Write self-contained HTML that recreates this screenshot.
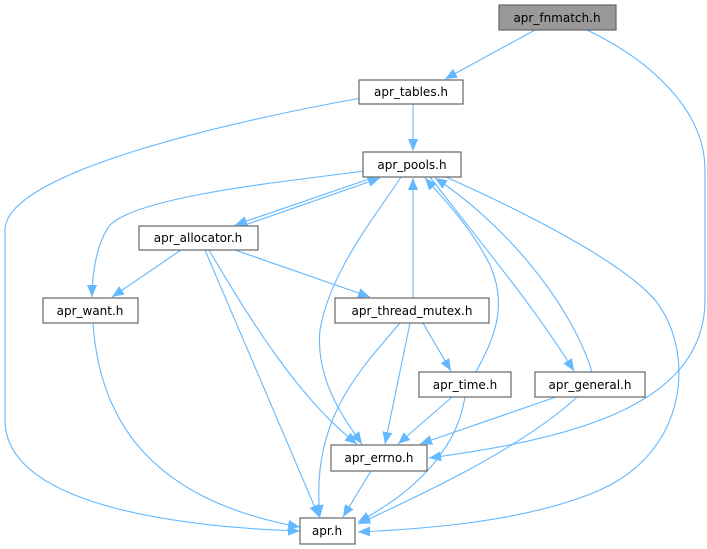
<!DOCTYPE html>
<html><head><meta charset="utf-8"><style>
html,body{margin:0;padding:0;background:#fff;}
svg{display:block;}
text{font-family:"DejaVu Sans","Liberation Sans",sans-serif;font-size:12px;fill:#000;text-anchor:middle;}
.n{fill:#fff;stroke:#666;stroke-width:1.2;}
.e{fill:none;stroke:#63b8ff;stroke-width:1.1;}
</style></head><body>
<svg width="707" height="549" viewBox="0 0 707 549">
<defs><marker id="a" viewBox="0 0 12 10" refX="12" refY="5" markerWidth="12" markerHeight="10" markerUnits="userSpaceOnUse" orient="auto"><path d="M0,0 L12,5 L0,10 z" fill="#63b8ff"/></marker></defs>
<g class="e" marker-end="url(#a)">
<path d="M535,30 L445,79"/>
<path d="M587,30 C650,60 705,110 705,170 L705,300 C705,410 560,440 429,458"/>
<path d="M413,104 L413,151"/>
<path d="M361,98 C250,118 5,170 5,230 L5,420 C5,510 200,528 300,531"/>
<path d="M364,171 C300,180 140,195 110,225 C95,245 92,280 92,297"/>
<path d="M372,178 L235,225"/>
<path d="M245,225 L380,178"/>
<path d="M401,177 C380,210 330,270 320,330 C315,380 345,420 362,444"/>
<path d="M413,298 L413,178"/>
<path d="M476,372 C490,345 510,310 490,265 C470,225 440,195 425,178"/>
<path d="M430,177 C470,230 530,300 574,371"/>
<path d="M592,372 C570,300 500,220 435,178"/>
<path d="M446,177 C520,210 620,260 655,300 C695,350 690,450 600,490 C520,525 400,530 358,532"/>
<path d="M181,250 L112,297"/>
<path d="M235,250 L370,297"/>
<path d="M205,250 L319,517"/>
<path d="M209,250 C250,320 300,400 357,444"/>
<path d="M400,323 C360,370 310,420 320,517"/>
<path d="M410,323 L385,444"/>
<path d="M423,323 L451,371"/>
<path d="M452,397 L398,444"/>
<path d="M465,397 C455,460 400,500 358,522"/>
<path d="M556,397 L420,444"/>
<path d="M577,397 C520,450 410,500 358,524"/>
<path d="M371,471 L343,517"/>
<path d="M93,324 C100,420 150,500 300,527"/>
</g>
<rect x="499" y="5" width="117" height="25" fill="#999" stroke="#666" stroke-width="1.2"/>
<text x="557" y="22">apr_fnmatch.h</text>
<rect class="n" x="359" y="80" width="104" height="24"/><text x="411" y="96">apr_tables.h</text>
<rect class="n" x="363" y="152" width="98" height="25"/><text x="412" y="169">apr_pools.h</text>
<rect class="n" x="139" y="226" width="119" height="24"/><text x="198" y="242">apr_allocator.h</text>
<rect class="n" x="43" y="298" width="95" height="25"/><text x="90" y="315">apr_want.h</text>
<rect class="n" x="335" y="298" width="154" height="25"/><text x="412" y="315">apr_thread_mutex.h</text>
<rect class="n" x="419" y="372" width="92" height="25"/><text x="465" y="389">apr_time.h</text>
<rect class="n" x="535" y="372" width="110" height="25"/><text x="590" y="389">apr_general.h</text>
<rect class="n" x="331" y="445" width="96" height="26"/><text x="379" y="462">apr_errno.h</text>
<rect class="n" x="300" y="518" width="55" height="26"/><text x="327" y="535">apr.h</text>
</svg>
</body></html>
